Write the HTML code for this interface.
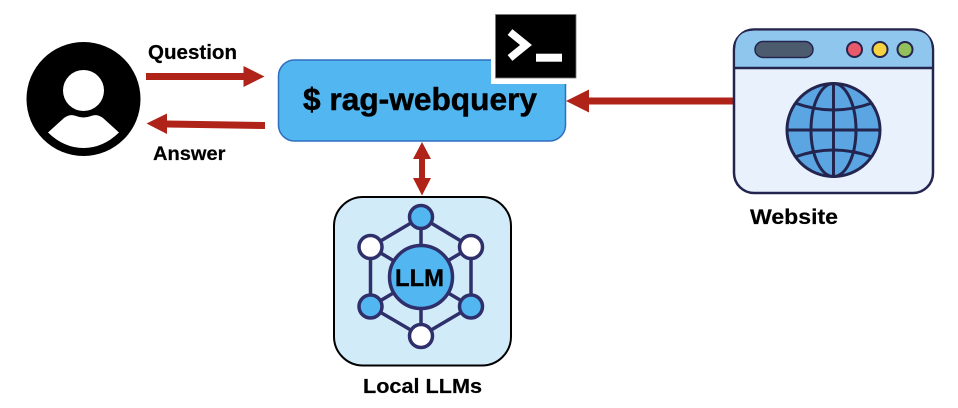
<!DOCTYPE html>
<html>
<head>
<meta charset="utf-8">
<style>
html,body{margin:0;padding:0;background:#fff;width:958px;height:408px;overflow:hidden}
svg{display:block}
text{font-family:"Liberation Sans",sans-serif;font-weight:bold;fill:#000}
</style>
</head>
<body>
<svg width="958" height="408" viewBox="0 0 958 408" xmlns="http://www.w3.org/2000/svg">
<rect width="958" height="408" fill="#fff"/>

<!-- user -->
<circle cx="83.5" cy="99" r="57" fill="#000"/>
<circle cx="83.5" cy="90.5" r="20.5" fill="#fff"/>
<path d="M48 132.500 L64 118 Q70 113.500 76 116 Q83.500 119 91 116 Q97 113.500 103 118 L119 132.500 Q103 148 83.500 148 Q64 148 48 132.500 Z" fill="#fff"/>

<!-- question / answer arrows -->
<polygon points="146,73 243.500,73 243.500,66 264.500,76.500 243.500,87 243.500,80 146,80" fill="#b02318"/>
<polygon points="265,122 167,120.500 167,113.500 146.500,123.500 167,134 167,127.500 265,129" fill="#b02318"/>
<text x="148" y="59" font-size="20" textLength="89" lengthAdjust="spacingAndGlyphs" stroke="#000" stroke-width="0.200">Question</text>
<text x="153" y="160" font-size="19.500" textLength="72.500" lengthAdjust="spacingAndGlyphs" stroke="#000" stroke-width="0.200">Answer</text>

<!-- main box -->
<rect x="278.500" y="60" width="287" height="81" rx="16" ry="16" fill="#52b6f0" stroke="#2f6fc0" stroke-width="1.500"/>
<rect x="491" y="8" width="90" height="76" fill="#fff"/>
<text x="303" y="110" font-size="31.500" textLength="234" lengthAdjust="spacingAndGlyphs" stroke="#000" stroke-width="0.500">$ rag-webquery</text>

<!-- terminal -->
<rect x="495.500" y="14.500" width="80.500" height="63.500" fill="#000" stroke="#777" stroke-width="0.800"/>
<polyline points="510,32 526,45 510,58" fill="none" stroke="#fff" stroke-width="7.500"/>
<rect x="536" y="53.700" width="26" height="8" fill="#fff"/>

<!-- website arrow -->
<polygon points="733,97.500 589,97.500 589,89.500 566,101 589,112.500 589,104.500 733,104.500" fill="#b02318"/>

<!-- double arrow -->
<polygon points="422,142 431,159 425,159 425,178 431,178 422,195.500 413,178 419,178 419,159 413,159" fill="#b02318"/>

<!-- LLM box -->
<rect x="334" y="197" width="177" height="168.500" rx="29" ry="29" fill="#d2ebf9" stroke="#000" stroke-width="2"/>
<g stroke="#2e2f6b" stroke-width="3.500" fill="none">
<polygon points="421,217 471,247 471,306.500 421,336 370.500,306.500 370.500,247"/>
<line x1="421" y1="217" x2="421" y2="336"/>
<line x1="370.500" y1="247" x2="471" y2="306.500"/>
<line x1="471" y1="247" x2="370.500" y2="306.500"/>
<circle cx="421" cy="277" r="31.500" fill="#52b6f0"/>
<circle cx="421" cy="217" r="11.500" fill="#52b6f0"/>
<circle cx="370.500" cy="247" r="11.500" fill="#fff"/>
<circle cx="471" cy="247" r="11.500" fill="#fff"/>
<circle cx="370.500" cy="306.500" r="11.500" fill="#52b6f0"/>
<circle cx="471" cy="306.500" r="11.500" fill="#52b6f0"/>
<circle cx="421" cy="336" r="11.500" fill="#fff"/>
</g>
<text x="395" y="286" font-size="24" textLength="49" lengthAdjust="spacingAndGlyphs" stroke="#000" stroke-width="0.400">LLM</text>
<text x="363" y="393" font-size="20.500" textLength="119" lengthAdjust="spacingAndGlyphs" stroke="#000" stroke-width="0.200">Local LLMs</text>

<!-- website window -->
<rect x="734" y="29.500" width="199" height="163.500" rx="20" ry="20" fill="#e9f1fd" stroke="#23254f" stroke-width="2.500"/>
<path d="M735.300 67.500 L735.300 49.500 Q735.300 30.800 754 30.800 L913 30.800 Q931.700 30.800 931.700 49.500 L931.700 67.500 Z" fill="#8fc6ee"/>
<line x1="734" y1="68" x2="933" y2="68" stroke="#23254f" stroke-width="2.500"/>
<rect x="755" y="41.500" width="58" height="16" rx="8" ry="8" fill="#4d5b6e" stroke="#23254f" stroke-width="1.500"/>
<circle cx="854.500" cy="49.500" r="7.500" fill="#e8596a" stroke="#23254f" stroke-width="2"/>
<circle cx="880" cy="49.500" r="7.500" fill="#f7d33f" stroke="#23254f" stroke-width="2"/>
<circle cx="905" cy="49.500" r="7.500" fill="#92c05a" stroke="#23254f" stroke-width="2"/>
<g stroke="#23254f" stroke-width="3" fill="none">
<circle cx="833.500" cy="130" r="46.500" fill="#5aa5e2"/>
<ellipse cx="833.500" cy="130" rx="22.500" ry="46.500"/>
<line x1="833.500" y1="83.500" x2="833.500" y2="176.500"/>
<line x1="787" y1="130" x2="880" y2="130"/>
<path d="M795 103 Q833.500 117 872 103"/>
<path d="M795 157 Q833.500 143 872 157"/>
</g>
<text x="750" y="224" font-size="21.500" textLength="88" lengthAdjust="spacingAndGlyphs" stroke="#000" stroke-width="0.200">Website</text>
</svg>
</body>
</html>
